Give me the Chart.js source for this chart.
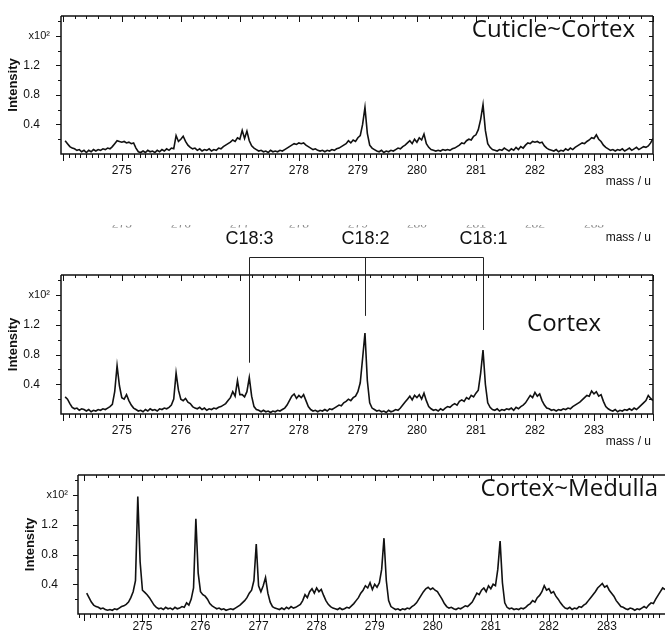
<!DOCTYPE html>
<html>
<head>
<meta charset="utf-8">
<script src="https://cdn.jsdelivr.net/npm/chart.js@4.4.0/dist/chart.umd.min.js"></script>
<style>
  html, body { margin: 0; padding: 0; background: #fff; }
  #page { position: relative; width: 665px; height: 634px; overflow: hidden; }
  .panel { position: absolute; left: 0; width: 665px; }
</style>
</head>
<body>
<div id="page">
  <div class="panel" style="top:0;height:195px"><canvas id="cuticle" width="665" height="195"></canvas></div>
  <div class="panel" style="top:195px;height:255px"><canvas id="cortex" width="665" height="255"></canvas></div>
  <div class="panel" style="top:450px;height:184px"><canvas id="medulla" width="665" height="184"></canvas></div>
</div>
<script>
// intensity in units of 10^2, one value every 0.04 u from 274.04 to 284.00
const cuticleCortex = [
  0.18, 0.14, 0.10, 0.08, 0.07, 0.05, 0.06, 0.03, 0.05, 0.02, 0.05, 0.03, 0.06, 0.04, 0.06, 0.05, 0.07, 0.06, 0.08, 0.07, 0.10, 0.14, 0.18, 0.17, 0.16,
  0.17, 0.15, 0.16, 0.14, 0.15, 0.08, 0.03, 0.02, 0.04, 0.02, 0.05, 0.03, 0.04, 0.02, 0.05, 0.03, 0.06, 0.04, 0.07, 0.05, 0.08, 0.07, 0.25, 0.17, 0.20,
  0.24, 0.17, 0.12, 0.09, 0.07, 0.08, 0.05, 0.07, 0.04, 0.06, 0.05, 0.07, 0.04, 0.06, 0.05, 0.08, 0.07, 0.10, 0.12, 0.14, 0.16, 0.19, 0.17, 0.22, 0.20,
  0.32, 0.21, 0.31, 0.18, 0.11, 0.08, 0.06, 0.04, 0.05, 0.03, 0.04, 0.02, 0.05, 0.03, 0.04, 0.03, 0.05, 0.04, 0.06, 0.08, 0.10, 0.12, 0.14, 0.13, 0.15,
  0.14, 0.15, 0.12, 0.10, 0.08, 0.06, 0.07, 0.05, 0.04, 0.05, 0.03, 0.05, 0.04, 0.06, 0.05, 0.07, 0.08, 0.10, 0.12, 0.14, 0.18, 0.15, 0.19, 0.17, 0.22,
  0.25, 0.40, 0.63, 0.28, 0.12, 0.08, 0.06, 0.04, 0.03, 0.05, 0.02, 0.04, 0.03, 0.05, 0.04, 0.06, 0.08, 0.07, 0.10, 0.12, 0.15, 0.18, 0.14, 0.20, 0.16,
  0.22, 0.19, 0.27, 0.14, 0.09, 0.06, 0.05, 0.04, 0.05, 0.04, 0.06, 0.05, 0.06, 0.05, 0.07, 0.08, 0.10, 0.12, 0.15, 0.14, 0.18, 0.20, 0.19, 0.24, 0.26,
  0.33, 0.47, 0.67, 0.32, 0.14, 0.09, 0.06, 0.05, 0.04, 0.06, 0.05, 0.08, 0.06, 0.04, 0.07, 0.05, 0.09, 0.06, 0.10, 0.08, 0.12, 0.15, 0.14, 0.17, 0.16,
  0.17, 0.15, 0.16, 0.11, 0.08, 0.06, 0.05, 0.04, 0.06, 0.03, 0.05, 0.04, 0.07, 0.05, 0.08, 0.06, 0.09, 0.11, 0.13, 0.15, 0.14, 0.17, 0.19, 0.22, 0.21,
  0.26, 0.20, 0.17, 0.12, 0.09, 0.07, 0.05, 0.06, 0.04, 0.06, 0.05, 0.07, 0.04, 0.06, 0.08, 0.05, 0.07, 0.09, 0.06, 0.08, 0.10, 0.09, 0.11, 0.15, 0.21
];
const cortex = [
  0.23, 0.20, 0.14, 0.09, 0.07, 0.08, 0.05, 0.07, 0.06, 0.04, 0.06, 0.03, 0.05, 0.04, 0.06, 0.05, 0.07, 0.06, 0.08, 0.10, 0.13, 0.30, 0.65, 0.38, 0.22,
  0.20, 0.26, 0.18, 0.12, 0.08, 0.06, 0.04, 0.05, 0.03, 0.06, 0.04, 0.07, 0.05, 0.06, 0.04, 0.07, 0.06, 0.08, 0.07, 0.09, 0.12, 0.20, 0.55, 0.32, 0.20,
  0.18, 0.21, 0.16, 0.14, 0.10, 0.08, 0.07, 0.09, 0.06, 0.08, 0.05, 0.07, 0.06, 0.08, 0.07, 0.09, 0.10, 0.12, 0.14, 0.18, 0.22, 0.30, 0.24, 0.45, 0.26,
  0.26, 0.23, 0.30, 0.49, 0.24, 0.10, 0.06, 0.05, 0.03, 0.05, 0.03, 0.04, 0.02, 0.04, 0.03, 0.05, 0.04, 0.06, 0.08, 0.12, 0.18, 0.24, 0.27, 0.21, 0.25,
  0.22, 0.26, 0.18, 0.10, 0.06, 0.04, 0.05, 0.03, 0.05, 0.04, 0.06, 0.04, 0.07, 0.06, 0.08, 0.10, 0.12, 0.11, 0.15, 0.17, 0.20, 0.18, 0.22, 0.24, 0.30,
  0.42, 0.75, 1.09, 0.45, 0.15, 0.08, 0.06, 0.04, 0.05, 0.03, 0.04, 0.02, 0.05, 0.03, 0.04, 0.06, 0.05, 0.08, 0.12, 0.16, 0.20, 0.24, 0.19, 0.25, 0.22,
  0.26, 0.20, 0.28, 0.18, 0.10, 0.07, 0.05, 0.06, 0.04, 0.07, 0.05, 0.08, 0.10, 0.09, 0.12, 0.14, 0.12, 0.17, 0.19, 0.17, 0.22, 0.20, 0.25, 0.23, 0.28,
  0.32, 0.55, 0.86, 0.40, 0.15, 0.09, 0.06, 0.05, 0.07, 0.04, 0.06, 0.05, 0.07, 0.06, 0.08, 0.05, 0.09, 0.07, 0.10, 0.12, 0.15, 0.20, 0.25, 0.22, 0.29,
  0.24, 0.27, 0.18, 0.12, 0.08, 0.07, 0.05, 0.06, 0.04, 0.06, 0.05, 0.07, 0.06, 0.08, 0.07, 0.10, 0.12, 0.14, 0.16, 0.19, 0.22, 0.25, 0.24, 0.31, 0.27,
  0.30, 0.24, 0.26, 0.17, 0.10, 0.07, 0.05, 0.04, 0.06, 0.03, 0.05, 0.04, 0.06, 0.05, 0.07, 0.05, 0.08, 0.06, 0.09, 0.12, 0.15, 0.18, 0.25, 0.21, 0.18
];
const cortexMedulla = [
  0.28, 0.22, 0.16, 0.12, 0.10, 0.09, 0.07, 0.08, 0.06, 0.05, 0.06, 0.05, 0.07, 0.06, 0.08, 0.10, 0.11, 0.13, 0.16, 0.22, 0.30, 0.45, 1.58, 0.70, 0.32,
  0.29, 0.26, 0.22, 0.17, 0.12, 0.09, 0.07, 0.08, 0.06, 0.09, 0.07, 0.08, 0.06, 0.09, 0.07, 0.08, 0.10, 0.09, 0.15, 0.12, 0.20, 0.35, 1.28, 0.55, 0.30,
  0.26, 0.24, 0.20, 0.14, 0.11, 0.09, 0.07, 0.08, 0.06, 0.07, 0.05, 0.06, 0.07, 0.06, 0.08, 0.10, 0.12, 0.15, 0.18, 0.22, 0.28, 0.32, 0.45, 0.94, 0.38,
  0.30, 0.38, 0.49, 0.28, 0.16, 0.10, 0.08, 0.07, 0.06, 0.08, 0.06, 0.09, 0.07, 0.10, 0.08, 0.09, 0.11, 0.13, 0.18, 0.26, 0.22, 0.30, 0.34, 0.28, 0.35,
  0.30, 0.33, 0.25, 0.18, 0.13, 0.10, 0.08, 0.07, 0.06, 0.08, 0.06, 0.07, 0.09, 0.08, 0.11, 0.14, 0.18, 0.22, 0.28, 0.32, 0.38, 0.35, 0.42, 0.33, 0.40,
  0.36, 0.42, 0.60, 1.02, 0.45, 0.18, 0.10, 0.08, 0.06, 0.07, 0.05, 0.07, 0.06, 0.08, 0.07, 0.10, 0.12, 0.15, 0.20, 0.25, 0.30, 0.34, 0.36, 0.33, 0.35,
  0.32, 0.30, 0.25, 0.20, 0.14, 0.10, 0.08, 0.09, 0.07, 0.06, 0.08, 0.07, 0.09, 0.11, 0.10, 0.13, 0.16, 0.22, 0.28, 0.26, 0.32, 0.35, 0.30, 0.38, 0.34,
  0.40, 0.38, 0.60, 0.98, 0.42, 0.15, 0.09, 0.07, 0.08, 0.06, 0.07, 0.06, 0.08, 0.07, 0.09, 0.12, 0.14, 0.18, 0.16, 0.22, 0.25, 0.30, 0.38, 0.32, 0.34,
  0.28, 0.30, 0.24, 0.20, 0.15, 0.11, 0.08, 0.07, 0.09, 0.06, 0.08, 0.07, 0.10, 0.09, 0.12, 0.14, 0.18, 0.22, 0.26, 0.30, 0.35, 0.38, 0.41, 0.36, 0.38,
  0.32, 0.28, 0.24, 0.18, 0.14, 0.10, 0.09, 0.07, 0.06, 0.08, 0.07, 0.05, 0.07, 0.06, 0.08, 0.10, 0.08, 0.12, 0.15, 0.14, 0.20, 0.25, 0.30, 0.35, 0.33
];

const massStart = 274.04;
const massStep = 0.04;
const massLabels = [275, 276, 277, 278, 279, 280, 281, 282, 283];
const intensityLabels = [0.4, 0.8, 1.2];

// fatty acid assignments marked on the cortex spectrum
const acidNames = ['C18:3', 'C18:2', 'C18:1'];
const acidMasses = [277.16, 279.12, 281.12];
const acidLineEnds = [0.69, 1.32, 1.13];

const INK = '#111';
const TICK_FONT = '"Liberation Sans", Arial, sans-serif';

// box, tick marks, multiplier, unit and panel title
const frame = {
  id: 'frame',
  afterDatasetsDraw(chart, args, o) {
    const { ctx, chartArea: a, scales: { x, y } } = chart;
    ctx.save();
    ctx.strokeStyle = INK;
    ctx.lineWidth = 1.5;
    ctx.beginPath();
    ctx.moveTo(a.left, a.top); ctx.lineTo(a.right, a.top);
    ctx.moveTo(a.left, a.top); ctx.lineTo(a.left, a.bottom); ctx.lineTo(a.right, a.bottom);
    if (o.rightEdge) { ctx.moveTo(a.right, a.top); ctx.lineTo(a.right, a.bottom); }
    ctx.stroke();

    ctx.lineWidth = 1;
    ctx.beginPath();
    for (let k = Math.ceil(x.min * 10); k <= Math.floor(x.max * 10); k++) {
      const px = Math.round(x.getPixelForValue(k / 10)) + 0.5;
      const major = k % 10 === 0;
      ctx.moveTo(px, a.bottom); ctx.lineTo(px, a.bottom + (major ? 7 : 4));
      if (k % 2 === 0) { ctx.moveTo(px, a.top); ctx.lineTo(px, a.top + (major ? 6 : 3)); }
    }
    for (let k = 1; k * 0.2 <= y.max; k++) {
      const py = Math.round(y.getPixelForValue(k * 0.2)) + 0.5;
      ctx.moveTo(a.left, py); ctx.lineTo(a.left - (k % 2 === 0 ? 5 : 3), py);
      if (o.rightEdge) { ctx.moveTo(a.right, py); ctx.lineTo(a.right - 4, py); }
    }
    ctx.stroke();

    ctx.fillStyle = INK;
    ctx.textBaseline = 'middle';
    ctx.textAlign = 'right';
    ctx.font = '11px ' + TICK_FONT;
    ctx.fillText('x10²', a.left - o.unitGap, y.getPixelForValue(1.6));
    if (o.massUnit) {
      ctx.font = '12px ' + TICK_FONT;
      ctx.fillText('mass / u', a.right - 2, a.bottom + 28);
    }
    ctx.font = '24px "Open Sans", sans-serif';
    ctx.fillText(o.title, a.right - o.titleRight, a.top + o.titleDown);
    ctx.restore();
  }
};

// bracket with the C18 assignments, plus the cut tick row of the strip above
const acidMarks = {
  id: 'acidMarks',
  afterDatasetsDraw(chart) {
    const { ctx, chartArea: a, scales: { x, y } } = chart;
    const barY = a.top - 17.5;
    const xs = acidMasses.map(m => Math.round(x.getPixelForValue(m)) + 0.5);
    ctx.save();
    ctx.strokeStyle = '#222';
    ctx.lineWidth = 1;
    ctx.beginPath();
    ctx.moveTo(xs[0], barY); ctx.lineTo(xs[xs.length - 1], barY);
    xs.forEach((px, i) => { ctx.moveTo(px, barY); ctx.lineTo(px, y.getPixelForValue(acidLineEnds[i])); });
    ctx.stroke();

    ctx.fillStyle = INK;
    ctx.textAlign = 'center';
    ctx.textBaseline = 'middle';
    ctx.font = '18px ' + TICK_FONT;
    acidNames.forEach((t, i) => ctx.fillText(t, xs[i], a.top - 36));

    ctx.textAlign = 'right';
    ctx.font = '12px ' + TICK_FONT;
    ctx.fillText('mass / u', a.right - 2, a.top - 37);

    ctx.beginPath();
    ctx.rect(0, a.top - 50, chart.width, 2.5);
    ctx.clip();
    ctx.fillStyle = '#8a8a8a';
    ctx.textAlign = 'center';
    ctx.textBaseline = 'alphabetic';
    massLabels.forEach(m => ctx.fillText(String(m), x.getPixelForValue(m), a.top - 47));
    ctx.restore();
  }
};

function spectrum(id, values, p) {
  const points = values.map((v, i) => ({ x: +(massStart + i * massStep).toFixed(2), y: v }));
  return new Chart(document.getElementById(id), {
    type: 'line',
    data: {
      datasets: [{
        data: points,
        borderColor: INK,
        borderWidth: 1.6,
        pointRadius: 0,
        tension: 0,
        fill: false
      }]
    },
    options: {
      responsive: false,
      animation: false,
      devicePixelRatio: 1,
      layout: { padding: { top: p.top, right: p.right, left: 0, bottom: 0 } },
      plugins: {
        legend: { display: false },
        tooltip: { enabled: false },
        frame: p.frame
      },
      scales: {
        x: {
          type: 'linear',
          min: p.xMin,
          max: 284,
          afterFit: s => { s.height = p.xHeight; },
          // tickLength only sets the label gap; the marks themselves come from the frame plugin
          grid: { display: false, drawTicks: true, tickLength: p.xGap },
          border: { display: false },
          ticks: {
            stepSize: 1,
            includeBounds: false,
            autoSkip: false,
            maxRotation: 0,
            padding: 0,
            color: INK,
            font: { family: TICK_FONT, size: 12 },
            callback: v => massLabels.includes(v) ? String(v) : ''
          }
        },
        y: {
          min: 0,
          max: 1.87,
          afterFit: s => { s.width = p.yWidth; },
          grid: { display: false, drawTicks: true, tickLength: p.yGap },
          border: { display: false },
          title: {
            display: true,
            text: 'Intensity',
            color: INK,
            font: { family: TICK_FONT, size: 13, weight: 'bold' },
            padding: { top: p.titlePad, bottom: 0 }
          },
          ticks: {
            stepSize: 0.4,
            includeBounds: false,
            padding: 0,
            color: INK,
            font: { family: TICK_FONT, size: 12 },
            callback: v => intensityLabels.includes(+v.toFixed(1)) ? v.toFixed(1) : ''
          }
        }
      }
    },
    plugins: p.extra ? [frame, p.extra] : [frame]
  });
}

spectrum('cuticle', cuticleCortex, {
  top: 16, right: 12, xMin: 273.97, xHeight: 41, xGap: 9, yWidth: 61, yGap: 21, titlePad: 6,
  frame: { rightEdge: true, unitGap: 11, massUnit: true, title: 'Cuticle~Cortex', titleRight: 18, titleDown: 14 }
});

spectrum('cortex', cortex, {
  top: 80, right: 12, xMin: 273.97, xHeight: 36, xGap: 9, yWidth: 61, yGap: 21, titlePad: 6,
  frame: { rightEdge: true, unitGap: 11, massUnit: true, title: 'Cortex', titleRight: 52, titleDown: 49 },
  extra: acidMarks
});

spectrum('medulla', cortexMedulla, {
  top: 25, right: 0, xMin: 273.89, xHeight: 20, xGap: 5, yWidth: 78, yGap: 20, titlePad: 23,
  frame: { rightEdge: false, unitGap: 10, massUnit: false, title: 'Cortex~Medulla', titleRight: 7, titleDown: 14 }
});
</script>
</body>
</html>
